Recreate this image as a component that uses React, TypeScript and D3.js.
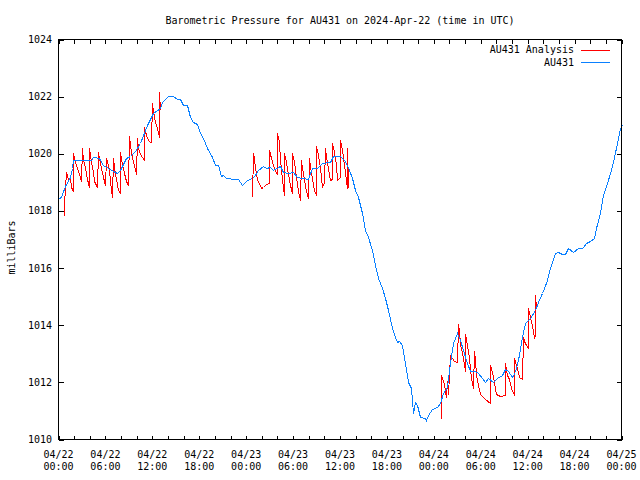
import React from "react";
import * as d3 from "d3";

// ---- Data (hours since 2024-04-22 00:00 UTC) ----
const stationHours = [
  0.0, 0.3, 0.8, 1.45, 1.75, 1.9, 2.5, 3.0, 3.5, 4.2, 4.45, 5.2, 5.7, 6.35, 7.0, 7.45, 7.85, 8.6, 9.1, 9.8,
  10.4, 11.3, 12.1, 12.95, 13.2, 14.0, 14.7, 15.1, 15.5, 15.95, 16.4, 16.8, 17.25, 17.65, 18.1, 18.5, 18.95,
  19.6, 20.0, 20.45, 20.75, 21.1, 21.4, 21.85, 22.15, 23.0, 23.43, 24.07, 24.7, 25.13, 25.55, 26.2, 26.6,
  27.05, 27.47, 28.33, 28.75, 29.39, 30.03, 30.46, 31.1, 31.95, 32.38, 33.02, 33.66, 34.72, 35.15, 36.0,
  36.64, 37.2, 37.5, 37.92, 38.34, 38.78, 39.2, 39.62, 40.05, 40.48, 40.9, 41.33, 41.76, 42.18, 42.61,
  43.04, 43.25, 43.59, 43.89, 44.31, 44.74, 45.04, 45.3, 45.59, 45.89, 46.23, 46.87, 47.0, 47.3, 47.73,
  48.37, 48.79, 49.21, 49.65, 50.07, 50.49, 50.93, 51.35, 51.77, 52.2, 52.63, 53.27, 53.69, 54.1, 54.55,
  54.97, 55.6, 56.04, 56.68, 57.1, 57.52, 57.95, 58.38, 58.8, 59.23, 59.65, 60.3, 60.94, 61.36, 61.8, 62.1,
  62.44, 62.86, 63.07, 63.5, 63.92, 64.35, 64.77, 65.2, 65.8, 66.46, 66.9, 67.1, 67.5, 67.97, 68.5, 68.8,
  69.25, 69.67, 70.1, 70.53, 70.95, 71.38, 71.8, 72.0,
];
const stationPressure = [
  1018.45, 1018.5, 1018.87, 1019.2, 1019.49, 1019.78, 1019.8, 1019.78, 1019.8, 1019.78, 1019.9, 1019.84,
  1019.6, 1019.49, 1019.4, 1019.32, 1019.43, 1019.84, 1019.92, 1020.11, 1020.37, 1021.0, 1021.44, 1021.59,
  1021.8, 1022.02, 1022.02, 1021.91, 1021.91, 1021.71, 1021.71, 1021.3, 1021.12, 1021.06, 1020.72, 1020.54,
  1020.19, 1019.9, 1019.6, 1019.6, 1019.22, 1019.25, 1019.14, 1019.17, 1019.1, 1019.1, 1018.91, 1019.08,
  1019.14, 1019.26, 1019.43, 1019.57, 1019.5, 1019.55, 1019.43, 1019.57, 1019.37, 1019.32, 1019.37, 1019.18,
  1019.14, 1019.1, 1019.49, 1019.49, 1019.69, 1019.72, 1019.92, 1019.92, 1019.76, 1019.43, 1019.14, 1018.73,
  1018.5, 1017.92, 1017.33, 1017.1, 1016.63, 1016.1, 1015.64, 1015.29, 1014.94, 1014.53, 1013.89, 1013.6,
  1013.42, 1013.45, 1013.31, 1012.67, 1012.02, 1011.79, 1010.92, 1011.32, 1011.21, 1010.8, 1010.74, 1010.68,
  1010.86, 1011.06, 1011.15, 1011.27, 1011.62, 1011.85, 1012.67, 1013.37, 1013.72, 1013.48, 1013.13, 1012.67,
  1012.4, 1012.4, 1012.32, 1012.14, 1012.02, 1012.14, 1012.02, 1012.14, 1012.26, 1012.46, 1012.4, 1012.2,
  1012.37, 1012.78, 1013.6, 1014.07, 1014.24, 1014.53, 1014.82, 1015.12, 1015.3, 1015.58, 1015.99, 1016.22,
  1016.52, 1016.57, 1016.49, 1016.49, 1016.69, 1016.57, 1016.69, 1016.69, 1016.75, 1016.89, 1016.96, 1017.04,
  1017.39, 1017.92, 1018.56, 1018.97, 1019.32, 1019.72, 1020.37, 1020.89, 1021.0,
];

const analysisHours1 = [
  0.72, 0.75, 0.98, 1.2, 1.45, 1.65, 1.85, 1.9, 2.1, 2.35, 2.6, 2.9, 2.96, 3.15, 3.35, 3.6, 3.88, 3.94, 4.12,
  4.35, 4.6, 4.92, 5.0, 5.2, 5.45, 5.7, 5.97, 6.03, 6.2, 6.4, 6.65, 6.88, 6.93, 7.1, 7.35, 7.6, 7.82, 7.87,
  8.1, 8.35, 8.6, 8.92, 8.97, 9.15, 9.4, 9.65, 9.92, 10.0, 10.2, 10.45, 10.7, 10.92, 10.98, 11.15, 11.4,
  11.65, 11.85, 11.9, 12.1, 12.35, 12.6, 12.85, 12.9, 12.95,
];
const analysisPressure1 = [
  1017.86, 1018.25, 1019.37, 1019.1, 1019.15, 1018.85, 1018.7, 1020.02, 1019.72, 1019.5, 1019.3, 1019.05,
  1020.19, 1019.8, 1019.55, 1019.1, 1018.85, 1020.19, 1019.7, 1019.37, 1019.05, 1018.85, 1020.07, 1019.84,
  1019.5, 1019.2, 1018.9, 1019.84, 1019.7, 1019.45, 1019.05, 1018.5, 1019.84, 1019.55, 1019.1, 1018.75,
  1018.62, 1020.07, 1019.66, 1019.32, 1019.05, 1018.9, 1020.62, 1020.3, 1019.84, 1019.6, 1019.3, 1020.54,
  1020.19, 1020.0, 1019.88, 1019.78, 1020.95, 1020.66, 1020.5, 1020.42, 1020.42, 1021.77, 1021.5, 1021.1,
  1020.9, 1020.6, 1022.17, 1021.55,
];
const analysisHours2 = [
  24.79, 24.81, 24.95, 25.15, 25.4, 25.86, 26.2, 26.6, 26.93, 26.97, 27.15, 27.4, 27.7, 27.95, 27.99, 28.15,
  28.35, 28.6, 28.83, 28.88, 29.05, 29.3, 29.6, 29.86, 29.91, 30.1, 30.35, 30.65, 30.92, 30.97, 31.2, 31.45,
  31.7, 31.93, 31.98, 32.15, 32.4, 32.7, 32.92, 32.95, 33.15, 33.4, 33.7, 33.98, 34.02, 34.2, 34.45, 34.7,
  34.98, 35.02, 35.2, 35.45, 35.66, 35.96, 36.0, 36.2, 36.45, 36.85, 36.9, 37.05,
];
const analysisPressure2 = [
  1018.48, 1020.02, 1019.84, 1019.5, 1019.1, 1018.79, 1018.85, 1018.93, 1018.97, 1020.13, 1019.85, 1019.6,
  1019.4, 1019.3, 1020.72, 1020.4, 1019.8, 1019.1, 1018.56, 1020.02, 1019.7, 1019.3, 1018.9, 1018.64,
  1020.02, 1019.7, 1019.2, 1018.7, 1018.38, 1019.78, 1019.5, 1019.1, 1018.7, 1018.45, 1019.84, 1019.55,
  1019.15, 1018.75, 1018.56, 1020.28, 1019.95, 1019.5, 1018.85, 1019.0, 1020.2, 1019.9, 1019.5, 1019.08,
  1019.1, 1020.37, 1020.05, 1019.6, 1019.08, 1019.2, 1020.48, 1020.15, 1019.6, 1018.79, 1020.19, 1018.8,
];
const analysisHours3 = [
  48.96, 48.98, 49.1, 49.25, 49.4, 49.53, 49.62, 49.75, 50.05, 50.35, 50.6, 50.98, 51.03, 51.2, 51.4, 51.6,
  51.95, 52.04, 52.2, 52.45, 52.7, 53.05, 53.1, 53.25, 53.45, 53.7, 53.95, 54.55, 55.15, 55.21, 55.4, 55.65,
  55.95, 56.5, 57.05, 57.1, 57.3, 57.55, 57.85, 58.22, 58.28, 58.45, 58.7, 58.95, 59.32, 59.38, 59.55, 59.8,
  60.05, 60.1, 60.3, 60.5, 60.75, 60.9, 60.95, 61.02,
];
const analysisPressure3 = [
  1010.74, 1012.25, 1012.15, 1011.95, 1011.7, 1011.5, 1012.05, 1011.6, 1012.97, 1012.85, 1012.75, 1012.7,
  1014.05, 1013.8, 1013.35, 1013.05, 1012.4, 1013.7, 1013.3, 1012.85, 1012.15, 1011.8, 1013.09, 1012.8,
  1012.25, 1011.9, 1011.6, 1011.42, 1011.28, 1012.61, 1012.37, 1012.0, 1011.58, 1011.52, 1011.55, 1012.67,
  1012.25, 1012.1, 1011.8, 1011.55, 1012.85, 1012.6, 1012.37, 1012.2, 1012.13, 1013.57, 1013.45, 1013.3,
  1013.2, 1014.6, 1014.3, 1014.0, 1013.6, 1013.65, 1015.05, 1014.6,
];

const yTicks = [1010, 1012, 1014, 1016, 1018, 1020, 1022, 1024];
const seriesNames = ["AU431 Analysis", "AU431"];
const seriesColors = ["#ff0000", "#0a80ff"];
const titleText = "Barometric Pressure for AU431 on 2024-Apr-22 (time in UTC)";
const yLabel = "milliBars";

const START = Date.UTC(2024, 3, 22, 0, 0);
const END = Date.UTC(2024, 3, 25, 0, 0);

const FONT = "'DejaVu Sans Mono', 'Liberation Mono', monospace";

export default function App() {
  const L = 58.5, R = 621.5, T = 39.5, B = 439.5;
  const x = d3.scaleUtc().domain([new Date(START), new Date(END)]).range([L, R]);
  const y = d3.scaleLinear().domain([1010, 1024]).range([B, T]);
  const toDate = (h: number) => new Date(START + h * 3600e3);

  const line = d3
    .line<[number, number]>()
    .x((d) => Math.round(x(toDate(d[0]))) + 0.5)
    .y((d) => Math.round(y(d[1])) + 0.5);

  const zip = (hs: number[], vs: number[]) => hs.map((h, i) => [h, vs[i]] as [number, number]);
  const analysisSegs = [
    zip(analysisHours1, analysisPressure1),
    zip(analysisHours2, analysisPressure2),
    zip(analysisHours3, analysisPressure3),
  ];
  const station = zip(stationHours, stationPressure);

  const minorTicks = x.ticks(d3.utcHour.every(2)!);
  const majorTicks = x.ticks(d3.utcHour.every(6)!);
  const fmtDate = d3.utcFormat("%m/%d");
  const fmtTime = d3.utcFormat("%H:%M");

  return (
    <svg width={640} height={480} style={{ position: "absolute", left: 0, top: 0, background: "#fff" }}
      fontFamily={FONT} fontSize={10}>
      <rect x={0} y={0} width={640} height={480} fill="#fff" />
      <text x={(L + R) / 2} y={24} textAnchor="middle" fill="#000">{titleText}</text>

      {/* data */}
      <g fill="none" strokeWidth={1} shapeRendering="crispEdges">
        {analysisSegs.map((s, i) => (
          <path key={i} d={line(s) || ""} stroke={seriesColors[0]} />
        ))}
        <path d={line(station) || ""} stroke={seriesColors[1]} />
      </g>

      {/* axes frame */}
      <rect x={L} y={T} width={R - L} height={B - T} fill="none" stroke="#000" strokeWidth={1} shapeRendering="crispEdges" />

      {/* x ticks */}
      <g stroke="#000" strokeWidth={1} shapeRendering="crispEdges">
        {minorTicks.map((d, i) => {
          const px = Math.round(x(d)) + 0.5;
          return (
            <g key={i}>
              <line x1={px} x2={px} y1={B} y2={B - 4} />
              <line x1={px} x2={px} y1={T} y2={T + 4} />
            </g>
          );
        })}
        {yTicks.map((v, i) => {
          const py = Math.round(y(v)) + 0.5;
          return (
            <g key={i}>
              <line x1={L} x2={L + 5} y1={py} y2={py} />
              <line x1={R} x2={R - 5} y1={py} y2={py} />
            </g>
          );
        })}
      </g>

      {/* x labels */}
      <g fill="#000" textAnchor="middle">
        {majorTicks.map((d, i) => (
          <g key={i}>
            <text x={x(d)} y={457.5}>{fmtDate(d)}</text>
            <text x={x(d)} y={470}>{fmtTime(d)}</text>
          </g>
        ))}
      </g>

      {/* y labels */}
      <g fill="#000" textAnchor="end">
        {yTicks.map((v, i) => (
          <text key={i} x={52} y={y(v) + 3.5}>{v}</text>
        ))}
      </g>
      <text transform={`translate(15,247.5) rotate(-90)`} textAnchor="middle" fill="#000">{yLabel}</text>

      {/* legend */}
      <g>
        {seriesNames.map((n, i) => {
          const ly = 49.5 + i * 12.8;
          return (
            <g key={i}>
              <text x={574} y={ly + 3.5} textAnchor="end" fill="#000">{n}</text>
              <line x1={581} x2={610} y1={Math.round(ly) + 0.5} y2={Math.round(ly) + 0.5}
                stroke={seriesColors[i]} strokeWidth={1} shapeRendering="crispEdges" />
            </g>
          );
        })}
      </g>
    </svg>
  );
}
